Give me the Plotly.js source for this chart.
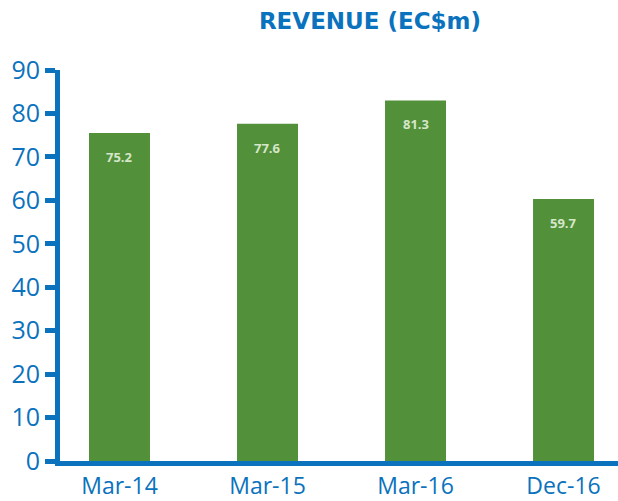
<!DOCTYPE html>
<html>
<head>
<meta charset="utf-8">
<script src="https://cdn.plot.ly/plotly-3.0.1.min.js"></script>
<style>html,body{margin:0;padding:0;background:#fff;}#chart{width:618px;height:501px;}</style>
</head>
<body>
<div id="chart"></div>
<script>
const categories = ["Mar-14", "Mar-15", "Mar-16", "Dec-16"];
const revenue = [75.2, 77.6, 81.3, 59.7];
const barHeights = [75.5, 77.6, 83.0, 60.3];
const labels = ["75.2", "77.6", "81.3", "59.7"];
const yTicks = [0, 10, 20, 30, 40, 50, 60, 70, 80, 90];

const blue = "#0b72bd";

const trace = {
  type: "bar",
  x: categories,
  y: barHeights,
  width: 0.412,
  marker: {color: "#52903a"},
  hoverinfo: "skip"
};

const annotations = categories.map((c, i) => ({
  x: c, y: barHeights[i], xref: "x", yref: "y",
  text: "<b>" + labels[i] + "</b>",
  showarrow: false, yanchor: "middle", yshift: -24,
  font: {family: "Open Sans, sans-serif", size: 13, color: "#d6e6c9"}
}));

const layout = {
  width: 618, height: 501,
  margin: {l: 60, r: 0, t: 70, b: 40, pad: 0},
  paper_bgcolor: "#fff", plot_bgcolor: "#fff",
  showlegend: false,
  title: {
    text: "<b>REVENUE (EC$m)</b>",
    font: {family: "DejaVu Sans, sans-serif", size: 23, color: blue},
    x: (370 - 60) / 558, xref: "paper", xanchor: "center",
    y: 1 - 21/501, yref: "container", yanchor: "middle"
  },
  xaxis: {
    type: "category",
    range: [-0.402, 3.368],
    showline: true, linecolor: blue, linewidth: 5,
    ticks: "", showgrid: false, zeroline: false,
    tickfont: {family: "Open Sans, sans-serif", size: 23, color: blue},
    ticklabelstandoff: 0
  },
  yaxis: {
    range: [0, 90],
    tickvals: yTicks,
    showline: true, linecolor: blue, linewidth: 5,
    ticks: "outside", ticklen: 10, tickwidth: 5, tickcolor: blue,
    showgrid: false, zeroline: false,
    tickfont: {family: "Open Sans, sans-serif", size: 25, color: blue},
    ticklabelstandoff: 0
  },
  annotations: annotations
};

Plotly.newPlot("chart", [trace], layout, {displayModeBar: false, staticPlot: true});
</script>
</body>
</html>
